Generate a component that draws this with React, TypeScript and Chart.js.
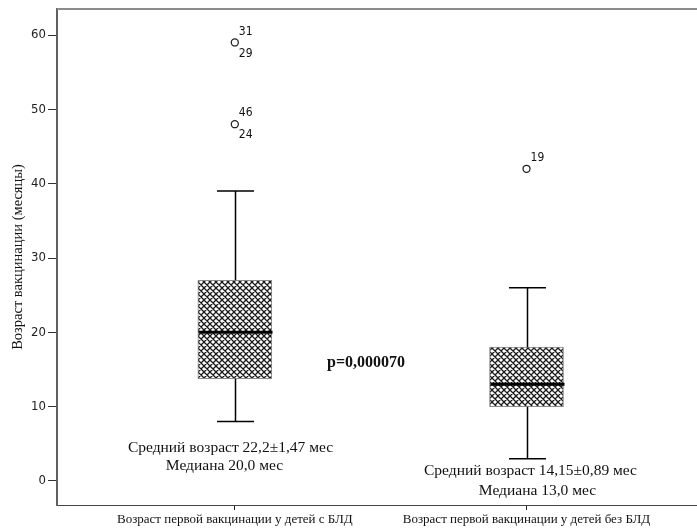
import React, { useEffect, useRef } from "react";
import { Chart, registerables } from "chart.js";

Chart.register(...registerables);

// ---------- data ----------
const categories = [
  "Возраст первой вакцинации у детей с БЛД",
  "Возраст первой вакцинации у детей без БЛД",
];
const categoryPositions = [1, 2];
const whiskerLow = [8, 3];
const q1 = [13.75, 10];
const medians = [20, 13];
const q3 = [27, 18];
const whiskerHigh = [39, 26];

const outlierGroup = [1, 1, 2];
const outlierValues = [59, 48, 42];
const outlierLabelsAbove = ["31", "46", "19"];
const outlierLabelsBelow = ["29", "24", ""];

const yTicks = [0, 10, 20, 30, 40, 50, 60];
const yMin = -3.23;
const yMax = 63.5;

const meanLines = ["Средний возраст 22,2±1,47 мес", "Средний возраст 14,15±0,89 мес"];
const medianLines = ["Медиана 20,0 мес", "Медиана 13,0 мес"];
const meanLineValues = [4.45, 1.4];
const medianLineValues = [2.0, -1.3];
const pValueText = "p=0,000070";
const pValuePosition = { x: 1.45, y: 15.9 };
const yAxisTitle = "Возраст вакцинации (месяцы)";

const SERIF = '"Liberation Serif", "DejaVu Serif", serif';
const NARROW = '"Liberation Sans Narrow", "DejaVu Sans Condensed", "Liberation Sans", sans-serif';

function makePattern(ctx: CanvasRenderingContext2D): CanvasPattern | string {
  const s = 6;
  const tile = document.createElement("canvas");
  tile.width = s;
  tile.height = s;
  const t = tile.getContext("2d");
  if (!t) return "#888";
  t.fillStyle = "#ffffff";
  t.fillRect(0, 0, s, s);
  t.strokeStyle = "#1a1a1a";
  t.lineWidth = 1.3;
  t.beginPath();
  for (let dx = -s; dx <= s; dx += s) {
    for (let dy = -s; dy <= s; dy += s) {
      t.moveTo(dx, dy);
      t.lineTo(dx + s, dy + s);
      t.moveTo(dx + s, dy);
      t.lineTo(dx, dy + s);
    }
  }
  t.stroke();
  return ctx.createPattern(tile, "repeat") || "#888";
}

const boxPlugin = {
  id: "boxExtras",
  afterDatasetsDraw(chart: any) {
    const { ctx, chartArea, scales } = chart;
    const x = scales.x;
    const y = scales.y;
    const meta = chart.getDatasetMeta(0);
    ctx.save();

    // top frame line
    ctx.strokeStyle = "#8c8c8c";
    ctx.lineWidth = 2;
    ctx.beginPath();
    ctx.moveTo(chartArea.left, chartArea.top);
    ctx.lineTo(chart.width, chartArea.top);
    ctx.stroke();

    // extend bottom axis line to the canvas edge
    ctx.strokeStyle = "#444";
    ctx.lineWidth = 1;
    ctx.beginPath();
    ctx.moveTo(chartArea.right - 1, Math.round(chartArea.bottom) + 0.5);
    ctx.lineTo(chart.width, Math.round(chartArea.bottom) + 0.5);
    ctx.stroke();

    categoryPositions.forEach((pos, i) => {
      const cx = Math.round(x.getPixelForValue(pos)) + 0.5;
      const el = meta.data[i];
      const bw = el ? el.width : 74;
      const hi = y.getPixelForValue(whiskerHigh[i]);
      const lo = y.getPixelForValue(whiskerLow[i]);
      const top = y.getPixelForValue(q3[i]);
      const bot = y.getPixelForValue(q1[i]);
      const med = y.getPixelForValue(medians[i]);

      ctx.strokeStyle = "#000";
      ctx.lineWidth = 1.5;
      ctx.beginPath();
      ctx.moveTo(cx, top);
      ctx.lineTo(cx, hi);
      ctx.moveTo(cx, bot);
      ctx.lineTo(cx, lo);
      ctx.moveTo(cx - bw / 4, hi);
      ctx.lineTo(cx + bw / 4, hi);
      ctx.moveTo(cx - bw / 4, lo);
      ctx.lineTo(cx + bw / 4, lo);
      ctx.stroke();

      ctx.lineWidth = 3;
      ctx.beginPath();
      ctx.moveTo(cx - bw / 2, med);
      ctx.lineTo(cx + bw / 2, med);
      ctx.stroke();

      // annotations
      ctx.fillStyle = "#111";
      ctx.font = `15.5px ${SERIF}`;
      ctx.textAlign = "center";
      ctx.textBaseline = "middle";
      const offMean = i === 0 ? -5 : 3;
      const offMed = i === 0 ? -11 : 10;
      ctx.fillText(meanLines[i], cx + offMean, y.getPixelForValue(meanLineValues[i]));
      ctx.fillText(medianLines[i], cx + offMed, y.getPixelForValue(medianLineValues[i]));
    });

    // outlier labels
    const om = chart.getDatasetMeta(1);
    ctx.font = `12px ${NARROW}`;
    ctx.textAlign = "left";
    ctx.textBaseline = "middle";
    ctx.fillStyle = "#111";
    outlierValues.forEach((_, i) => {
      const p = om.data[i];
      if (!p) return;
      if (outlierLabelsAbove[i]) ctx.fillText(outlierLabelsAbove[i], p.x + 4, p.y - 11);
      if (outlierLabelsBelow[i]) ctx.fillText(outlierLabelsBelow[i], p.x + 4, p.y + 11);
    });

    // p-value
    ctx.font = `bold 16px ${SERIF}`;
    ctx.textAlign = "center";
    ctx.fillText(pValueText, x.getPixelForValue(pValuePosition.x), y.getPixelForValue(pValuePosition.y));

    ctx.restore();
  },
};

export default function App() {
  const ref = useRef<HTMLCanvasElement | null>(null);

  useEffect(() => {
    const canvas = ref.current;
    if (!canvas) return;
    const ctx = canvas.getContext("2d");
    if (!ctx) return;
    const pattern = makePattern(ctx);

    const chart = new Chart(ctx, {
      type: "bar",
      data: {
        datasets: [
          {
            type: "bar",
            data: categoryPositions.map((p, i) => ({ x: p, y: [q1[i], q3[i]] })) as any,
            backgroundColor: pattern as any,
            borderColor: "#8a8a8a",
            borderWidth: 1,
            borderSkipped: false,
            barThickness: 74,
          } as any,
          {
            type: "scatter",
            data: outlierValues.map((v, i) => ({ x: outlierGroup[i], y: v })),
            pointRadius: 3.5,
            pointHoverRadius: 3.5,
            pointBackgroundColor: "#ffffff",
            pointBorderColor: "#222",
            pointBorderWidth: 1.3,
          } as any,
        ],
      },
      options: {
        animation: false,
        responsive: false,
        events: [],
        layout: { padding: { top: 9, right: 0, left: 0, bottom: 0 } },
        plugins: { legend: { display: false }, tooltip: { enabled: false } },
        scales: {
          x: {
            type: "linear",
            offset: false,
            bounds: "ticks",
            min: 0.3904,
            max: 2.568,
            afterBuildTicks: (s: any) => {
              s.ticks = categoryPositions.map((v) => ({ value: v }));
            },
            afterFit: (s: any) => {
              s.height = 27;
              s.paddingLeft = 0;
              s.paddingRight = 0;
            },
            ticks: {
              autoSkip: false,
              maxRotation: 0,
              minRotation: 0,
              padding: 3,
              color: "#111",
              font: { family: SERIF, size: 13, lineHeight: 1 },
              callback: (v: any) => {
                const idx = categoryPositions.indexOf(Number(v));
                return idx >= 0 ? categories[idx] : "";
              },
            },
            grid: {
              display: true,
              offset: false,
              drawOnChartArea: false,
              drawTicks: true,
              tickLength: 5,
              color: "#222",
            },
            border: { display: true, color: "#444", width: 1 },
          },
          y: {
            type: "linear",
            min: yMin,
            max: yMax,
            afterBuildTicks: (s: any) => {
              s.ticks = yTicks.map((v) => ({ value: v }));
            },
            afterFit: (s: any) => {
              s.width = 57;
            },
            ticks: {
              padding: 2,
              color: "#222",
              font: { family: NARROW, size: 13, lineHeight: 1 },
            },
            grid: {
              display: true,
              drawOnChartArea: false,
              drawTicks: true,
              tickLength: 9,
              color: "#333",
            },
            border: { display: true, color: "#606060", width: 2 },
            title: {
              display: true,
              text: yAxisTitle,
              color: "#111",
              font: { family: SERIF, size: 14.5 },
              padding: { top: 9, bottom: 0 },
            },
          },
        },
      },
      plugins: [boxPlugin],
    } as any);

    return () => chart.destroy();
  }, []);

  return (
    <div style={{ position: "fixed", left: 0, top: 0, width: 697, height: 532, background: "#fff" }}>
      <canvas ref={ref} width={697} height={532} style={{ display: "block", width: 697, height: 532 }} />
    </div>
  );
}
